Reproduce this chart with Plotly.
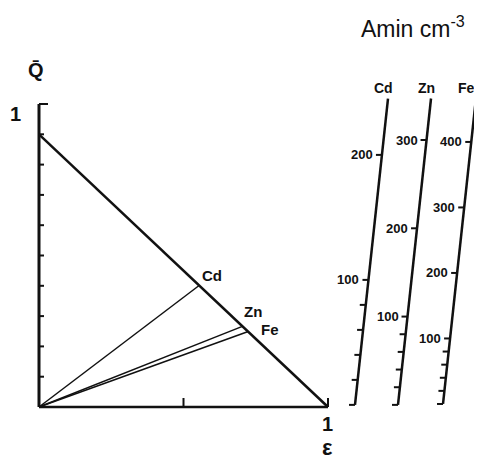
import plotly.graph_objects as go

# ---------------- data ----------------
# triangle diagram (Q-bar vs epsilon)
hyp_eps = [0.0, 1.0]
hyp_Q = [0.9, 0.0]
elements = ["Cd", "Zn", "Fe"]
elem_eps = [0.554, 0.706, 0.724]
elem_Q = [0.401, 0.267, 0.249]
q_ticks = [0.1, 0.2, 0.3, 0.4, 0.5, 0.6, 0.7, 0.8, 0.9, 1.0]
eps_ticks = [0.5, 1.0]

# nomogram scales (A min cm^-3)
scale_names = ["Cd", "Zn", "Fe"]
scale_major = [[100, 200], [100, 200, 300], [100, 200, 300, 400]]
scale_minor = [[0, 20, 40, 60, 80], [0, 20, 40, 60, 80], [0, 20, 40, 60, 80]]
scale_top = [245, 347, 466]

# ---------------- layout constants ----------------
# page body has an 8px margin, so the figure is 8px smaller and shifted
W, H = 474, 452
PX_X, PX_Y = 289.0, 303.0          # pixels per unit
X0_PX, Y0_PX = 31.0, 399.0         # origin pixel inside the figure
scale_base_x = [1.0934, 1.2422, 1.398]
scale_base_y = [0.007, 0.007, 0.010]
scale_unit = [0.004125, 0.002914, 0.002162]
scale_label_dx = [-5, -5, -9]
tilt = 0.113
BLACK = "#111111"
FONT = "Liberation Sans"


def fnt(size, weight="normal"):
    return dict(family=FONT, size=size, color=BLACK, weight=weight)


fig = go.Figure()


def add_line(xs, ys, w):
    fig.add_trace(go.Scatter(x=xs, y=ys, mode="lines",
                             line=dict(color=BLACK, width=w),
                             hoverinfo="skip", showlegend=False))


# axes of the triangle diagram
add_line([0, 0], [0, 1.0], 3)
add_line([0, 1.0], [0, 0], 2.5)
# y ticks (inside, to the right)
for q in q_ticks:
    L = 9 / PX_X if q == 1.0 else 5 / PX_X
    add_line([0, L], [q, q], 2)
# x ticks (pointing up)
for e in eps_ticks:
    add_line([e, e], [0, 9 / PX_Y], 2)

# hypotenuse
add_line(hyp_eps, hyp_Q, 2.5)
# rays from origin
for e, q in zip(elem_eps, elem_Q):
    add_line([0, e], [0, q], 1.5)

ann = []
shifts = {"Cd": (1, 10), "Zn": (-1, 15), "Fe": (11, 2)}
for name, e, q in zip(elements, elem_eps, elem_Q):
    dx, dy = shifts[name]
    ann.append(dict(x=e, y=q, text=name, showarrow=False, xanchor="left",
                    yanchor="middle", xshift=dx, yshift=dy,
                    font=fnt(15, "bold")))

# axis labels
ann.append(dict(x=0, y=1.0, text="1", showarrow=False, xanchor="center",
                yanchor="middle", xshift=-24, yshift=-10,
                font=fnt(20, "bold")))
ann.append(dict(x=0, y=1.0, text="Q\u0304", showarrow=False, xanchor="center",
                yanchor="middle", xshift=-3, yshift=34,
                font=fnt(20, "bold")))
ann.append(dict(x=1.0, y=0, text="1", showarrow=False, xanchor="center",
                yanchor="middle", xshift=-1, yshift=-17,
                font=fnt(20, "bold")))
ann.append(dict(x=1.0, y=0, text="\u03b5", showarrow=False, xanchor="center",
                yanchor="middle", xshift=-1, yshift=-40,
                font=fnt(22, "bold")))


# nomogram scales
def spos(i, v):
    dy = scale_unit[i] * v
    return scale_base_x[i] + tilt * dy, scale_base_y[i] + dy


tick_len = 6 / PX_X
for i, name in enumerate(scale_names):
    xb, yb = spos(i, 0)
    xt, yt = spos(i, scale_top[i])
    add_line([xb, xt], [yb, yt], 2.5)
    for v in scale_minor[i] + scale_major[i]:
        x, y = spos(i, v)
        add_line([x - tick_len, x], [y, y], 2)
    for v in scale_major[i]:
        x, y = spos(i, v)
        ann.append(dict(x=x - tick_len, y=y, text=str(v), showarrow=False,
                        xanchor="right", yanchor="middle", xshift=-1,
                        font=fnt(13, "bold")))
    ann.append(dict(x=xt, y=yt, text=name, showarrow=False, xanchor="center",
                    yanchor="middle", xshift=scale_label_dx[i], yshift=11,
                    font=fnt(14, "bold")))

# unit title
xt0, yt0 = spos(1, scale_top[1])
ann.append(dict(x=xt0, y=yt0, text="Amin cm<sup>-3</sup>", showarrow=False,
                xanchor="center", yanchor="middle", xshift=-18, yshift=72,
                font=fnt(23)))

fig.update_layout(
    width=W, height=H,
    margin=dict(l=0, r=0, t=0, b=0, pad=0),
    paper_bgcolor="white", plot_bgcolor="white",
    showlegend=False,
    annotations=ann,
    xaxis=dict(visible=False, range=[-X0_PX / PX_X, (W - X0_PX) / PX_X]),
    yaxis=dict(visible=False, range=[-(H - Y0_PX) / PX_Y, Y0_PX / PX_Y]),
)

fig.write_html("out.html")
